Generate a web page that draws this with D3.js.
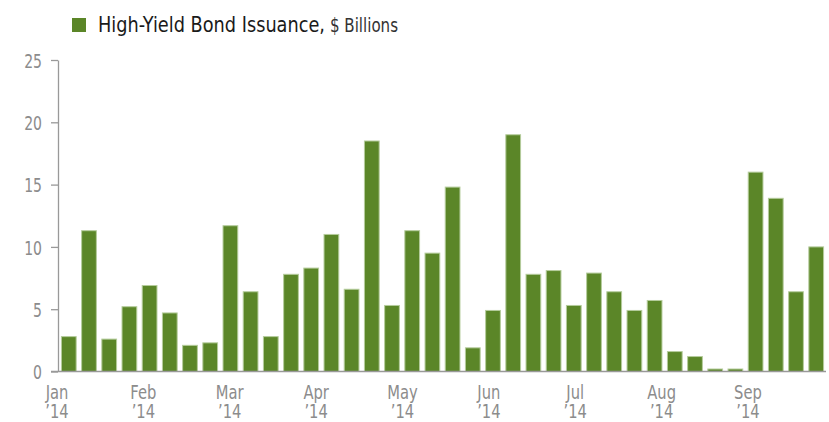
<!DOCTYPE html>
<html>
<head>
<meta charset="utf-8">
<script src="https://cdn.jsdelivr.net/npm/d3@7/dist/d3.min.js"></script>
<style>
  html, body { margin: 0; padding: 0; background: #fff; }
  svg { display: block; }
  text { font-family: "DejaVu Sans Condensed", "Liberation Sans Narrow", "Roboto", sans-serif; }
</style>
</head>
<body>
<svg id="chart" width="829" height="422"></svg>
<script>
// Weekly high-yield bond issuance, $ billions (Jan '14 - Sep '14)
const weeks = d3.range(38).map(i => "W" + (i + 1));
const issuance = [2.8, 11.3, 2.6, 5.2, 6.9, 4.7, 2.1, 2.3, 11.7, 6.4,
                  2.8, 7.8, 8.3, 11.0, 6.6, 18.5, 5.3, 11.3, 9.5, 14.8,
                  1.9, 4.9, 19.0, 7.8, 8.1, 5.3, 7.9, 6.4, 4.9, 5.7,
                  1.6, 1.2, 0.2, 0.2, 16.0, 13.9, 6.4, 10.0];
const monthLabels = ["Jan", "Feb", "Mar", "Apr", "May", "Jun", "Jul", "Aug", "Sep"];
const yearLabel = "\u201914";
const yTicks = [0, 5, 10, 15, 20, 25];
const legendLabel = "High-Yield Bond Issuance,";
const legendUnit = "$ Billions";

(function () {
const svg = d3.select("#chart");
const mLeft = 58, mRight = 826, mTop = 60, mBottom = 371.5;

const x = d3.scaleBand().domain(weeks).range([mLeft + 1, mRight]).paddingInner(0.27).paddingOuter(0.12);
const y = d3.scaleLinear().domain([0, 25]).range([mBottom, mTop]);
const xm = d3.scalePoint().domain(monthLabels).range([57, 748]);

const green = "#5b8628";
const grey = "#8c8c8c";

// bars
svg.append("g").selectAll("rect").data(issuance).join("rect")
  .attr("x", (d, i) => x(weeks[i]))
  .attr("width", x.bandwidth())
  .attr("y", d => y(d))
  .attr("height", d => y(0) - y(d))
  .attr("fill", green)
  .attr("stroke", "#b5cc9c")
  .attr("stroke-width", 1);

// y axis
const sy = 0.78;
const yAxis = svg.append("g").attr("transform", `translate(${mLeft},0)`)
  .call(d3.axisLeft(y).tickValues(yTicks).tickSize(7).tickPadding(16).tickSizeOuter(0));
yAxis.select(".domain").attr("stroke", "#999").attr("stroke-width", 1.3);
yAxis.selectAll(".tick line").attr("stroke", "#999").attr("stroke-width", 1.3);
yAxis.selectAll(".tick text")
  .attr("fill", grey).attr("font-size", 20)
  .attr("font-family", '"DejaVu Sans Condensed", sans-serif')
  .attr("x", -16 / sy)
  .attr("dy", "0.36em")
  .attr("transform", `scale(${sy},1)`);

// x axis line
svg.append("line").attr("x1", 51).attr("x2", 826).attr("y1", mBottom).attr("y2", mBottom)
  .attr("stroke", "#999").attr("stroke-width", 1.5);

// month labels (two lines in one text)
const sx = 0.84;
const mt = svg.append("g").selectAll("text").data(monthLabels).join("text")
  .attr("transform", d => `translate(${xm(d)},0) scale(${sx},1)`)
  .attr("y", 399).attr("text-anchor", "middle")
  .attr("fill", grey).attr("font-size", 19.5);
mt.append("tspan").attr("x", 0).text(d => d);
mt.append("tspan").attr("x", 0).attr("dy", 19.5).text(yearLabel);

// legend
svg.append("rect").attr("x", 72).attr("y", 18).attr("width", 14).attr("height", 14).attr("fill", green);
const lt = svg.append("text").attr("x", 98).attr("y", 32).attr("fill", "#1a1a1a").attr("font-size", 21);
lt.append("tspan").attr("textLength", 227).attr("lengthAdjust", "spacingAndGlyphs").text(legendLabel);
lt.append("tspan").attr("x", 330).attr("font-size", 20).attr("fill", "#333")
  .attr("textLength", 68).attr("lengthAdjust", "spacingAndGlyphs").text(legendUnit);
})();
</script>
</body>
</html>
